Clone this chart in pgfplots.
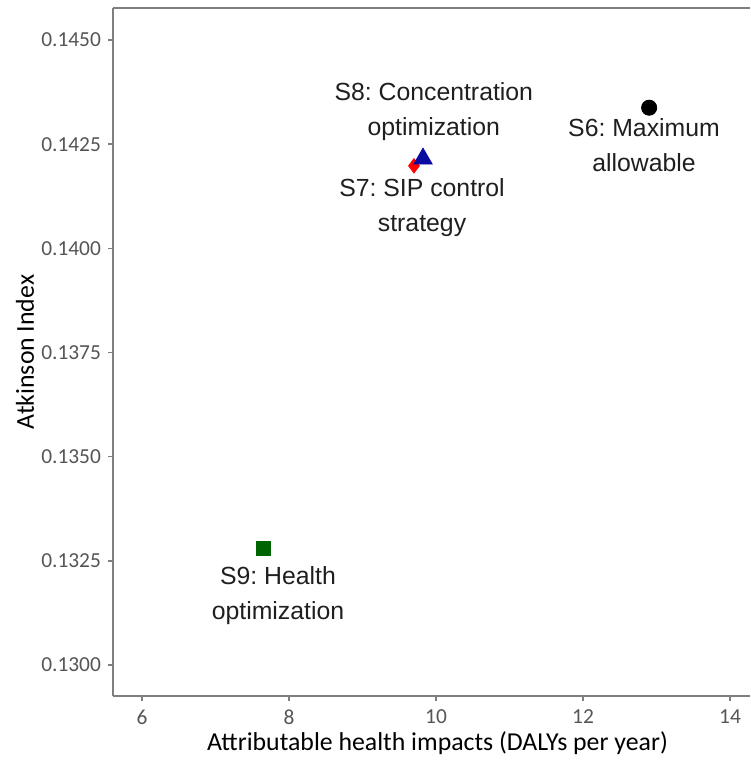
\documentclass[border=0pt]{standalone}
\usepackage{pgfplots}
\pgfplotsset{compat=1.18}
\usepackage{fontspec}
\setmainfont{Carlito}
\newfontfamily\annfont{Liberation Sans}
\frenchspacing
\definecolor{axgray}{HTML}{7F7F7F}
\definecolor{tickgray}{HTML}{555555}
\definecolor{mblue}{HTML}{0A0AA0}
\definecolor{mgreen}{HTML}{006400}
\begin{document}
\begin{tikzpicture}
\begin{axis}[
  at={(0,0)}, anchor=south west,
  scale only axis, width=318.5pt, height=344pt,
  xmin=5.605, xmax=14.272,
  ymin=0.129256, ymax=0.145768,
  axis x line*=bottom, axis y line*=left,
  axis line style={axgray, line width=0.8pt},
  xtick={6,8,10,12,14},
  ytick={0.1300,0.1325,0.1350,0.1375,0.1400,0.1425,0.1450},
  yticklabel style={/pgf/number format/.cd, fixed, fixed zerofill, precision=4},
  scaled y ticks=false,
  /pgf/number format/assume math mode=true,
  tick align=outside, major tick length=2.5pt,
  tick style={axgray, line width=0.8pt},
  ticklabel style={font=\fontsize{10.7}{12}\selectfont, text=tickgray},
  xticklabel style={yshift=-1pt},
  xlabel={Attributable health impacts (DALYs per year)},
  ylabel={Atkinson Index},
  label style={font=\fontsize{12.9}{14}\selectfont, text=black},
  xlabel style={at={(axis description cs:0.5,0)}, anchor=center, yshift=-23.5pt, xshift=3pt},
  ylabel style={at={(axis description cs:0,0.5)}, anchor=center, rotate=0, yshift=44pt},
  clip=false,
]
\addplot[only marks, mark=*, mark size=3.8pt, black] coordinates {(12.90,0.143375)};
\addplot[only marks, mark=diamond*, mark size=3.6pt, red, draw=red] coordinates {(9.70,0.14198)};
\addplot[only marks, mark=triangle*, mark size=5.3pt, mblue] coordinates {(9.823,0.14215)};
\addplot[only marks, mark=square*, mark size=3.5pt, mgreen] coordinates {(7.65,0.13280)};
\draw[axgray, line width=0.8pt] (rel axis cs:0,1) -- (rel axis cs:1,1);
\begin{scope}[every node/.style={font=\annfont\fontsize{12.4}{17.5}\selectfont, align=center, text=black!88}]
\node at (axis cs:9.97,0.14327) {S8: Concentration\\optimization};
\node at (axis cs:9.81,0.14097) {S7: SIP control\\strategy};
\node at (axis cs:12.83,0.14248) {S6: Maximum\\allowable};
\node at (axis cs:7.85,0.13166) {S9: Health\\optimization};
\end{scope}
\end{axis}
\pgfresetboundingbox
\path (-56.5pt,-32pt) rectangle (318.5pt,348pt);
\end{tikzpicture}
\end{document}
